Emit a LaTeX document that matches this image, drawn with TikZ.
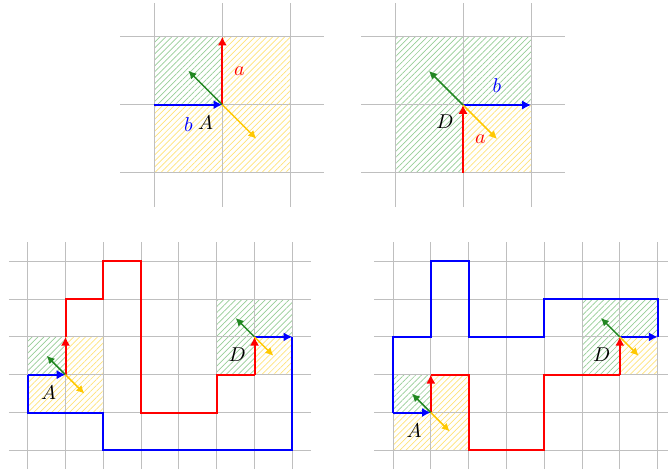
\documentclass[tikz,border=0pt]{standalone}
\usetikzlibrary{arrows.meta,patterns.meta}
\definecolor{arrgreen}{RGB}{34,135,34}
\definecolor{arryellow}{RGB}{255,200,0}
\definecolor{hatchgreen}{RGB}{150,205,150}
\definecolor{hatchyellow}{RGB}{255,226,120}
\tikzset{
  gridline/.style={black!25, line width=0.5pt},
  ghatch/.style={pattern={Lines[angle=45,distance=2.1pt,line width=0.35pt]}, pattern color=hatchgreen},
  yhatch/.style={pattern={Lines[angle=45,distance=2.1pt,line width=0.35pt]}, pattern color=hatchyellow},
  mainarrow/.style={line width=1pt, -{Latex[length=4.4pt,width=4.6pt]}},
  mainline/.style={line width=1pt, line join=miter},
  smallarrow/.style={line width=0.75pt, -{Latex[length=4pt,width=4pt]}},
}
\begin{document}
\begin{tikzpicture}[x=0.5pt,y=-0.5pt]
\useasboundingbox (0,0) rectangle (668,470);

% ---------- top-left ----------
\begin{scope}[shift={(154.3,172.7)},x=34pt,y=34pt]
  \fill[ghatch] (0,1) rectangle (1,2);
  \fill[yhatch] (1,1) rectangle (2,2) (0,0) rectangle (1,1) (1,0) rectangle (2,1);
  \foreach \i in {0,1,2} {
    \draw[gridline] (\i,-0.5) -- (\i,2.5);
    \draw[gridline] (-0.5,\i) -- (2.5,\i);
  }
  \coordinate (A1) at (1,1);
  \coordinate (A1up) at (1,2);
  \coordinate (A1left) at (0,1);
  \coordinate (A1g) at (0.5,1.5);
  \coordinate (A1y) at (1.5,0.5);
  \draw[mainarrow, blue] (A1left) -- (A1);
  \draw[mainarrow, red] (A1) -- (A1up);
  \draw[smallarrow, arrgreen] (A1) -- (A1g);
  \draw[smallarrow, arryellow] (A1) -- (A1y);
\end{scope}
\node[text=blue] (b1) at (188.5,125) {$b$};
\node (lA1) at (205.5,123) {$A$};
\node[text=red] (a1) at (239.5,71) {$a$};

% ---------- top-right ----------
\begin{scope}[shift={(395,173)},x=34pt,y=34pt]
  \fill[ghatch] (0,1) rectangle (1,2) (1,1) rectangle (2,2) (0,0) rectangle (1,1);
  \fill[yhatch] (1,0) rectangle (2,1);
  \foreach \i in {0,1,2} {
    \draw[gridline] (\i,-0.5) -- (\i,2.5);
    \draw[gridline] (-0.5,\i) -- (2.5,\i);
  }
  \coordinate (D1) at (1,1);
  \coordinate (D1down) at (1,0);
  \coordinate (D1right) at (2,1);
  \coordinate (D1g) at (0.5,1.5);
  \coordinate (D1y) at (1.5,0.5);
  \draw[mainarrow, red] (D1down) -- (D1);
  \draw[mainarrow, blue] (D1) -- (D1right);
  \draw[smallarrow, arrgreen] (D1) -- (D1g);
  \draw[smallarrow, arryellow] (D1) -- (D1y);
\end{scope}
\node (lD1) at (445,121.3) {$D$};
\node[text=blue] (b2) at (497,86) {$b$};
\node[text=red] (a2) at (480.3,139) {$a$};

% ---------- bottom-left ----------
\begin{scope}[shift={(27.7,450.3)},x=18.9pt,y=18.9pt]
  \fill[ghatch] (0,2) rectangle (1,3);
  \fill[yhatch] (1,2) rectangle (2,3) (0,1) rectangle (1,2) (1,1) rectangle (2,2);
  \fill[ghatch] (5,3) rectangle (6,4) (6,3) rectangle (7,4) (5,2) rectangle (6,3);
  \fill[yhatch] (6,2) rectangle (7,3);
  \foreach \i in {0,...,7} \draw[gridline] (\i,-0.5) -- (\i,5.5);
  \foreach \j in {0,...,5} \draw[gridline] (-0.5,\j) -- (7.5,\j);
  \coordinate (A2) at (1,2);
  \coordinate (D2) at (6,3);
  \coordinate (A2up) at (1,3);
  \coordinate (A2left) at (0,2);
  \coordinate (D2below) at (6,2);
  \coordinate (D2right) at (7,3);
  \draw[mainline, red] (A2up) -- (1,4) -- (2,4) -- (2,5) -- (3,5) -- (3,1) -- (5,1) -- (5,2) -- (D2below);
  \draw[mainarrow, red] (D2below) -- (D2);
  \draw[mainarrow, red] (A2) -- (A2up);
  \draw[mainline, blue] (D2right) -- (7,0) -- (2,0) -- (2,1) -- (0,1) -- (A2left);
  \draw[mainarrow, blue] (A2left) -- (A2);
  \draw[mainarrow, blue] (D2) -- (D2right);
  \draw[smallarrow, arrgreen] (A2) -- ++(-0.5,0.5);
  \draw[smallarrow, arryellow] (A2) -- ++(0.5,-0.5);
  \draw[smallarrow, arrgreen] (D2) -- ++(-0.5,0.5);
  \draw[smallarrow, arryellow] (D2) -- ++(0.5,-0.5);
\end{scope}
\node (lA2) at (48.7,392.8) {$A$};
\node (lD2) at (237.2,355) {$D$};

% ---------- bottom-right ----------
\begin{scope}[shift={(393,450.3)},x=18.9pt,y=18.9pt]
  \fill[ghatch] (0,1) rectangle (1,2);
  \fill[yhatch] (1,1) rectangle (2,2) (0,0) rectangle (1,1) (1,0) rectangle (2,1);
  \fill[ghatch] (5,3) rectangle (6,4) (6,3) rectangle (7,4) (5,2) rectangle (6,3);
  \fill[yhatch] (6,2) rectangle (7,3);
  \foreach \i in {0,...,7} \draw[gridline] (\i,-0.5) -- (\i,5.5);
  \foreach \j in {0,...,5} \draw[gridline] (-0.5,\j) -- (7.5,\j);
  \coordinate (A3) at (1,1);
  \coordinate (D3) at (6,3);
  \coordinate (A3up) at (1,2);
  \coordinate (A3left) at (0,1);
  \coordinate (D3below) at (6,2);
  \coordinate (D3right) at (7,3);
  \draw[mainline, red] (A3up) -- (2,2) -- (2,0) -- (4,0) -- (4,2) -- (D3below);
  \draw[mainarrow, red] (D3below) -- (D3);
  \draw[mainarrow, red] (A3) -- (A3up);
  \draw[mainline, blue] (D3right) -- (7,4) -- (4,4) -- (4,3) -- (2,3) -- (2,5) -- (1,5) -- (1,3) -- (0,3) -- (A3left);
  \draw[mainarrow, blue] (A3left) -- (A3);
  \draw[mainarrow, blue] (D3) -- (D3right);
  \draw[smallarrow, arrgreen] (A3) -- ++(-0.5,0.5);
  \draw[smallarrow, arryellow] (A3) -- ++(0.5,-0.5);
  \draw[smallarrow, arrgreen] (D3) -- ++(-0.5,0.5);
  \draw[smallarrow, arryellow] (D3) -- ++(0.5,-0.5);
\end{scope}
\node (lA3) at (414,430.3) {$A$};
\node (lD3) at (601.7,354.2) {$D$};
\end{tikzpicture}
\end{document}
